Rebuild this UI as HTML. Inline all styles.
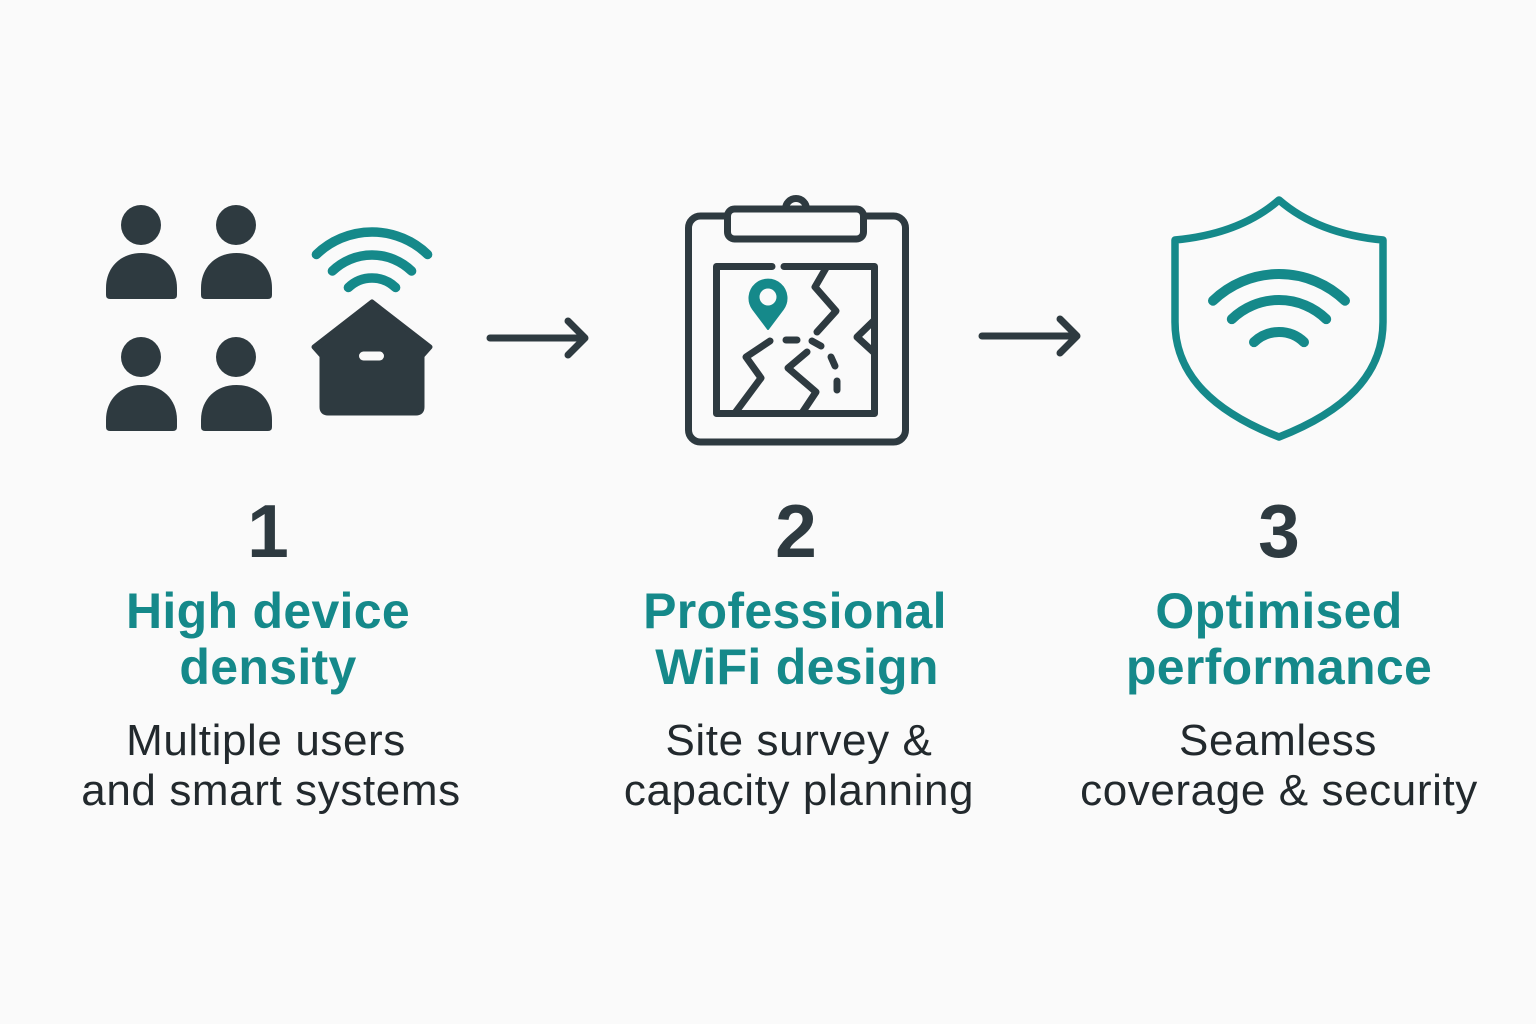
<!DOCTYPE html>
<html>
<head>
<meta charset="utf-8">
<style>
  html,body{margin:0;padding:0;background:#fafafa;}
  body{width:1536px;height:1024px;overflow:hidden;}
  svg{display:block;}
  .num{font-family:"Liberation Sans",sans-serif;font-weight:bold;font-size:75px;fill:#2e3a40;}
  .ttl{font-family:"Liberation Sans",sans-serif;font-weight:bold;font-size:50px;fill:#15898a;letter-spacing:0.3px;}
  .body{font-family:"Liberation Sans",sans-serif;font-size:44px;fill:#22292d;letter-spacing:0.6px;}
</style>
</head>
<body>
<svg width="1536" height="1024" viewBox="0 0 1536 1024" xmlns="http://www.w3.org/2000/svg">
  <rect width="1536" height="1024" fill="#fafafa"/>

  <!-- ===== Column 1 icon: people + house ===== -->
  <g fill="#2e3a40">
    <g>
      <circle cx="141" cy="225" r="20"/>
      <path d="M106,295 L106,288 C106,267 121,253 141.5,253 C162,253 177,267 177,288 L177,295 Q177,299 173,299 L110,299 Q106,299 106,295 Z"/>
    </g>
    <g transform="translate(95,0)">
      <circle cx="141" cy="225" r="20"/>
      <path d="M106,295 L106,288 C106,267 121,253 141.5,253 C162,253 177,267 177,288 L177,295 Q177,299 173,299 L110,299 Q106,299 106,295 Z"/>
    </g>
    <g transform="translate(0,132)">
      <circle cx="141" cy="225" r="20"/>
      <path d="M106,295 L106,288 C106,267 121,253 141.5,253 C162,253 177,267 177,288 L177,295 Q177,299 173,299 L110,299 Q106,299 106,295 Z"/>
    </g>
    <g transform="translate(95,132)">
      <circle cx="141" cy="225" r="20"/>
      <path d="M106,295 L106,288 C106,267 121,253 141.5,253 C162,253 177,267 177,288 L177,295 Q177,299 173,299 L110,299 Q106,299 106,295 Z"/>
    </g>
    <path d="M372,302 L430,347 L422,356 L422,407 Q422,413 416,413 L328,413 Q322,413 322,407 L322,356 L314,347 Z" stroke="#2e3a40" stroke-width="5" stroke-linejoin="round"/>
  </g>
  <rect x="359" y="351.5" width="25" height="9" rx="4.5" fill="#fafafa"/>
  <g fill="none" stroke="#15898a" stroke-width="9.5" stroke-linecap="round">
    <path d="M316.4,254.5 A80,80 0 0 1 427.6,254.5"/>
    <path d="M332.4,271 A57,57 0 0 1 411.6,271"/>
    <path d="M348.4,287.5 A34,34 0 0 1 395.6,287.5"/>
  </g>

  <!-- ===== Arrows ===== -->
  <g fill="none" stroke="#2e3a40" stroke-width="7" stroke-linecap="round" stroke-linejoin="round">
    <path d="M490,338 L585,338 M568,321 L585,338 L568,355"/>
    <path d="M982,336 L1077,336 M1060,319 L1077,336 L1060,353"/>
  </g>

  <!-- ===== Column 2 icon: clipboard map ===== -->
  <g fill="none" stroke="#2e3a40" stroke-width="7" stroke-linecap="round" stroke-linejoin="round">
    <rect x="688.5" y="216" width="217" height="226" rx="12"/>
    <circle cx="796" cy="209" r="10.5"/>
    <rect x="727.5" y="209" width="136" height="30" rx="7" fill="#fafafa"/>
    <path d="M772,266.5 L716.5,266.5 L716.5,413.5 L874.5,413.5 L874.5,266.5 L784,266.5"/>
    <path d="M826,268 L815,287 L836,311 L817,332"/>
    <path d="M874.5,320 L857,337 L874.5,353"/>
    <path d="M770,341 L746,357 L761,378 L735,413"/>
    <path d="M807,352 L788,368 L816,392 L802,413"/>
    <path d="M786,340 L797,340"/>
    <path d="M812,341 L821,346"/>
    <path d="M831,357 L835,366"/>
    <path d="M837,381 L837,390"/>
  </g>
  <path d="M768,329 L753,309 A18.5,18.5 0 1 1 783,309 Z" fill="#15898a" stroke="#15898a" stroke-width="2" stroke-linejoin="round"/>
  <circle cx="768" cy="297" r="8.5" fill="#fafafa"/>

  <!-- ===== Column 3 icon: shield ===== -->
  <path d="M1279,200 Q1240,234 1175,240 L1175,322 C1175,376 1215,412 1279,437 C1343,412 1383,376 1383,322 L1383,240 Q1318,234 1279,200 Z" fill="none" stroke="#15898a" stroke-width="7.5" stroke-linejoin="round"/>
  <g fill="none" stroke="#15898a" stroke-width="10" stroke-linecap="round">
    <path d="M1213,300.7 A95,95 0 0 1 1345,300.7"/>
    <path d="M1231.8,319.1 A68,68 0 0 1 1326.2,319.1"/>
    <path d="M1254,342.1 A36,36 0 0 1 1304,342.1"/>
  </g>

  <!-- ===== Text ===== -->
  <text class="num" x="268" y="557" text-anchor="middle">1</text>
  <text class="num" x="796" y="557" text-anchor="middle">2</text>
  <text class="num" x="1279" y="557" text-anchor="middle">3</text>

  <text class="ttl" x="268" y="628" text-anchor="middle">High device</text>
  <text class="ttl" x="268" y="684" text-anchor="middle">density</text>
  <text class="ttl" x="795" y="628" text-anchor="middle">Professional</text>
  <text class="ttl" x="797" y="684" text-anchor="middle">WiFi design</text>
  <text class="ttl" x="1279" y="628" text-anchor="middle">Optimised</text>
  <text class="ttl" x="1279" y="684" text-anchor="middle">performance</text>

  <text class="body" x="266" y="755" text-anchor="middle">Multiple users</text>
  <text class="body" x="271" y="805" text-anchor="middle">and smart systems</text>
  <text class="body" x="799" y="755" text-anchor="middle">Site survey &amp;</text>
  <text class="body" x="799" y="805" text-anchor="middle">capacity planning</text>
  <text class="body" x="1278" y="755" text-anchor="middle">Seamless</text>
  <text class="body" x="1279" y="805" text-anchor="middle">coverage &amp; security</text>
</svg>
</body>
</html>
